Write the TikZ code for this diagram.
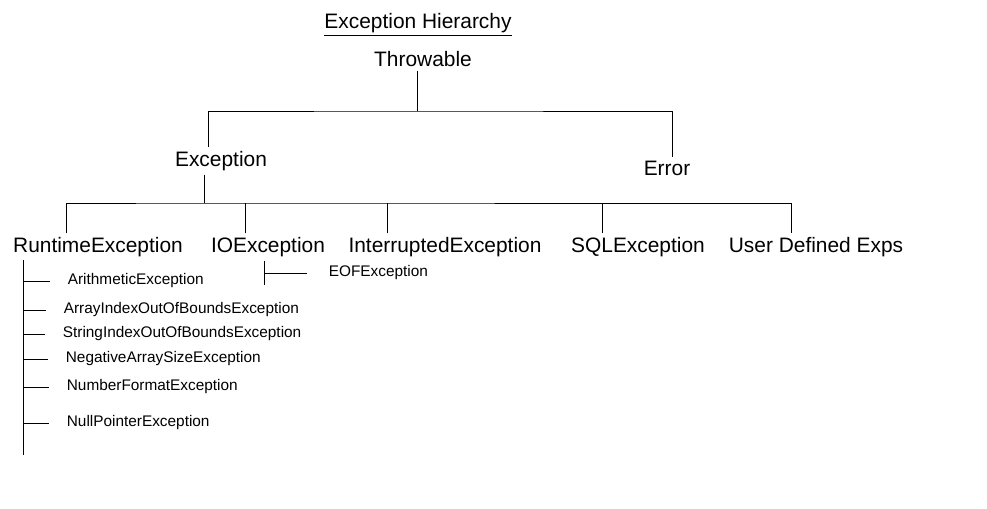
\documentclass[tikz,border=0pt]{standalone}
\usepackage{fontspec}
\setmainfont{Liberation Sans}
\usepackage{tikz}
\usetikzlibrary{positioning,calc}
\tikzset{
	cls/.style={inner sep=2pt, font=\fontsize{11.9}{14}\selectfont},
	sub/.style={inner sep=2pt, anchor=west, font=\fontsize{8.75}{11}\selectfont},
	ln/.style={draw=black, line width=0.5pt},
}
\begin{document}
\begin{tikzpicture}[x=0.02cm, y=-0.02cm]
	\useasboundingbox[fill=white] (0,0) rectangle (987,509);
	% title and root
	\node[cls] at (418,25) (title) {\underline{Exception Hierarchy}};
	\node[cls] at (423,59) (throw) {Throwable};
	% second level
	\node[cls] at (221,161) (exc) {Exception};
	\node[cls] at (667,168) (err) {Error};
	% third level
	\node[cls] at (98,247) (rt) {RuntimeException};
	\node[cls] at (268,247) (io) {IOException};
	\node[cls] at (445,247) (intr) {InterruptedException};
	\node[cls] at (638,247) (sql) {SQLException};
	\node[cls] at (816,247) (ude) {User Defined Exps};
	% runtime subclasses
	\node[sub] at (64,281) (arith) {ArithmeticException};
	\node[sub] at (60,310) (aioob) {ArrayIndexOutOfBoundsException};
	\node[sub] at (59,334) (sioob) {StringIndexOutOfBoundsException};
	\node[sub] at (62,359) (nase) {NegativeArraySizeException};
	\node[sub] at (63,387) (nfe) {NumberFormatException};
	\node[sub] at (63,423) (npe) {NullPointerException};
	\node[sub] at (325,273) (eof) {EOFException};
	% Throwable -> Exception, Error
	\coordinate (b1) at (417,111);
	\draw[ln] (throw.south -| b1) -- (b1);
	\draw[ln] ([xshift=-7pt]exc.north) |- (b1) -| ([xshift=3pt]err.north);
	% Exception -> third level
	\coordinate (b2) at (204,203);
	\draw[ln] (exc.south -| b2) -- (b2);
	\draw[ln] ([xshift=-18pt]rt.north) |- (b2) -| ([xshift=-14pt]ude.north);
	\draw[ln] ([xshift=-13pt]io.north) -- ([xshift=-13pt]io.north |- b2);
	\draw[ln] ([xshift=-33pt]intr.north) -- ([xshift=-33pt]intr.north |- b2);
	\draw[ln] ([xshift=-20pt]sql.north) -- ([xshift=-20pt]sql.north |- b2);
	% IOException -> EOFException
	\draw[ln] ([xshift=-2pt]io.south) coordinate (iot) -- ++(0,24);
	\draw[ln] (iot |- eof.west) -- ([xshift=-10pt]eof.west);
	% RuntimeException -> subclasses
	\coordinate (rtv) at (23,260);
	\draw[ln] (rtv) -- ++(0,195);
	\foreach \n in {arith,aioob,sioob,nase,nfe,npe}
		\draw[ln] (rtv |- \n.west) -- ([xshift=-8pt]\n.west);
\end{tikzpicture}
\end{document}
